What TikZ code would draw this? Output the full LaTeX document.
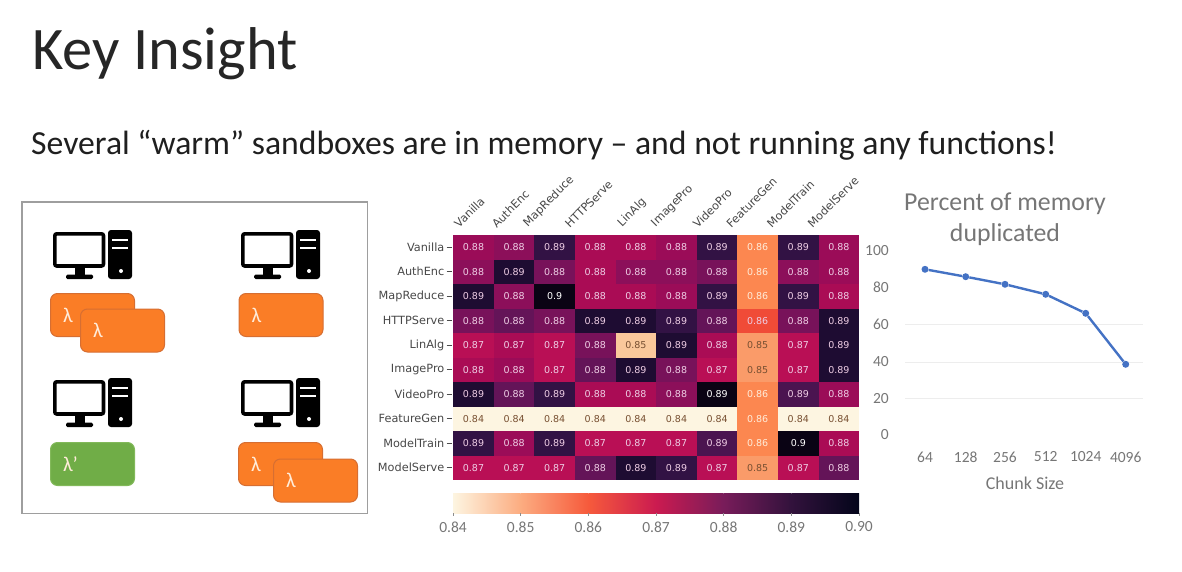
\documentclass[tikz,border=0pt]{standalone}
\usepackage{fontspec}
\setmainfont{Carlito}
\newfontfamily\heatfont{DejaVu Sans}
\usepackage{tikz}

\definecolor{sbxorange}{RGB}{250,125,38}
\definecolor{sbxedge}{RGB}{214,110,50}
\definecolor{sbxgreen}{RGB}{112,173,71}
\definecolor{sbxgreenedge}{RGB}{130,185,90}
\definecolor{chartgrey}{RGB}{118,118,118}
\definecolor{chartblue}{RGB}{68,114,196}
\definecolor{heatpale}{RGB}{238,205,228}
\definecolor{heatbrown}{RGB}{120,80,50}
\definecolor{barA}{RGB}{253,245,225}
\definecolor{barB}{RGB}{252,172,128}
\definecolor{barC}{RGB}{246,90,60}
\definecolor{barD}{RGB}{203,27,80}
\definecolor{barE}{RGB}{120,28,90}
\definecolor{barF}{RGB}{50,18,60}
\definecolor{barG}{RGB}{3,5,26}

\tikzset{
  % heat map tones, dark to light
  tk/.style={fill={rgb,255:red,10;green,3;blue,20},text=white},
  ta/.style={fill={rgb,255:red,30;green,12;blue,50}},
  tb/.style={fill={rgb,255:red,50;green,18;blue,68}},
  tc/.style={fill={rgb,255:red,75;green,20;blue,80}},
  td/.style={fill={rgb,255:red,100;green,20;blue,88}},
  te/.style={fill={rgb,255:red,120;green,18;blue,90}},
  tf/.style={fill={rgb,255:red,140;green,15;blue,90}},
  tg/.style={fill={rgb,255:red,155;green,12;blue,88}},
  th/.style={fill={rgb,255:red,170;green,12;blue,85}},
  ti/.style={fill={rgb,255:red,185;green,15;blue,85}},
  tr/.style={fill={rgb,255:red,240;green,75;blue,55},text=heatpale},
  to/.style={fill={rgb,255:red,252;green,135;blue,80},text=white!85!orange},
  tp/.style={fill={rgb,255:red,250;green,155;blue,105},text=heatbrown},
  ts/.style={fill={rgb,255:red,250;green,200;blue,155},text=heatbrown},
  tw/.style={fill={rgb,255:red,253;green,245;blue,225},text=heatbrown},
  heatcell/.style={anchor=north west,inner sep=0pt,minimum width=40.6pt,minimum height=24.5pt,
    text=heatpale,font=\heatfont\fontsize{9.5}{10}\selectfont},
  heatname/.style={inner sep=0pt,text=black!72,font=\heatfont\fontsize{11.3}{12}\selectfont},
  sandbox/.style={draw=sbxedge,line width=1pt,fill=sbxorange,rounded corners=7pt,anchor=north west,
    minimum width=84pt,minimum height=43pt,text width=59pt,inner xsep=12.5pt,align=left,
    text=white!85!orange,font=\fontsize{21}{22}\selectfont},
  axislabel/.style={inner sep=0pt,text=chartgrey,font=\fontsize{15.5}{16}\selectfont},
  barlabel/.style={inner sep=0pt,text=chartgrey,font=\fontsize{15.5}{16}\selectfont},
  gridrule/.style={draw=black!7,line width=.8pt},
  chartdot/.style={circle,fill=chartblue,inner sep=0pt,minimum size=7pt},
  pics/computer/.style={code={
    \draw[line width=3.6pt,rounded corners=2pt] (1.8,3.8) rectangle (50.5,36);
    \fill (22,37) rectangle (32,45);
    \fill[rounded corners=1.5pt] (13,44.5) rectangle (40,49);
    \fill[rounded corners=3pt] (55,0) rectangle (79,49);
    \fill[white] (59,9) rectangle (75,11.2);
    \fill[white] (59,16.5) rectangle (75,18.7);
    \fill[white] (68,41) circle (2pt);
  }}
}

\begin{document}
\begin{tikzpicture}[x=1pt,y=-1pt]
  \useasboundingbox (0,0) rectangle (1182,572);

  % heading
  \node[anchor=base west,inner sep=0pt,text=black!85,font=\fontsize{60.4}{62}\selectfont] (title) at (32,70) {Key Insight};
  \node[anchor=base west,inner sep=0pt,text=black!88,font=\fontsize{33.7}{35}\selectfont] (subtitle) at (31,154.5)
    {Several “warm” sandboxes are in memory – and not running any functions!};

  % machines
  \node[draw=black!38,line width=1.5pt,anchor=north west,inner sep=0pt,minimum width=345.5pt,minimum height=311.5pt] (frame) at (21,201) {};
  \pic (pcA) at (53,230) {computer};
  \pic (pcB) at (241,230) {computer};
  \pic (pcC) at (53,378) {computer};
  \pic (pcD) at (241,378) {computer};
  \node[sandbox] (lamA) at (50,293) {λ};
  \node[sandbox] (lamB) at (80,308.5) {λ};
  \node[sandbox] (lamC) at (238.5,293) {λ};
  \node[sandbox,fill=sbxgreen,draw=sbxgreenedge] (lamD) at (50,442) {λ'};
  \node[sandbox] (lamE) at (238,442) {λ};
  \node[sandbox] (lamF) at (273,458.5) {λ};

  % heat map
  \foreach \rowname/\cells [count=\r from 0] in {
    Vanilla/{0.88/tg,0.88/tf,0.89/tb,0.88/th,0.88/th,0.88/tg,0.89/tb,0.86/to,0.89/tb,0.88/tg},
    AuthEnc/{0.88/tf,0.89/ta,0.88/te,0.88/th,0.88/tf,0.88/tf,0.88/te,0.86/to,0.88/tf,0.88/tg},
    MapReduce/{0.89/ta,0.88/tf,0.9/tk,0.88/th,0.88/th,0.88/tg,0.89/tb,0.86/to,0.89/tb,0.88/th},
    HTTPServe/{0.88/te,0.88/td,0.88/te,0.89/ta,0.89/ta,0.89/tb,0.88/td,0.86/tr,0.88/te,0.89/ta},
    LinAlg/{0.87/ti,0.87/th,0.87/ti,0.88/te,0.85/ts,0.89/ta,0.88/th,0.85/tp,0.87/ti,0.89/ta},
    ImagePro/{0.88/th,0.88/tg,0.87/ti,0.88/td,0.89/ta,0.88/te,0.87/ti,0.85/tp,0.87/ti,0.89/ta},
    VideoPro/{0.89/ta,0.88/td,0.89/tb,0.88/th,0.88/th,0.88/tf,0.89/tk,0.86/to,0.89/tc,0.88/tg},
    FeatureGen/{0.84/tw,0.84/tw,0.84/tw,0.84/tw,0.84/tw,0.84/tw,0.84/tw,0.86/to,0.84/tw,0.84/tw},
    ModelTrain/{0.89/tb,0.88/tg,0.89/tb,0.87/ti,0.87/ti,0.87/ti,0.89/tc,0.86/to,0.9/tk,0.88/th},
    ModelServe/{0.87/ti,0.87/ti,0.87/ti,0.88/td,0.89/ta,0.89/tb,0.87/ti,0.85/tp,0.87/ti,0.88/td}}
  {
    \foreach \val/\tone [count=\c from 0] in \cells
      \node[heatcell,\tone] (cell-\r-\c) at ({453+40.6*\c},{235+24.5*\r}) {\val};
    \node[heatname,anchor=east] (row-\r) at (444.5,{247.25+24.5*\r}) {\rowname};
    \draw[black!70,line width=.8pt] (row-\r.east) ++(2,0) -- ++(5,0);
  }
  \foreach \colname/\shift [count=\c from 0] in {Vanilla/14,AuthEnc/17,MapReduce/25,HTTPServe/25,LinAlg/12,ImagePro/19,VideoPro/19,FeatureGen/26,ModelTrain/26,ModelServe/26}
    \node[heatname,rotate=45,anchor=south west] (col-\c) at ({473.3+40.6*\c-\shift},229) {\colname};

  % colour bar
  \foreach \from/\leftc/\rightc [count=\c from 0] in {453/barA/barB,520.67/barB/barC,588.33/barC/barD,656/barD/barE,723.67/barE/barF,791.33/barF/barG}
    \shade[left color=\leftc,right color=\rightc] (\from,493) rectangle ++(67.7,20);
  \foreach \tick [count=\c from 0] in {0.84,0.85,0.86,0.87,0.88,0.89,0.90} {
    \node[barlabel] (bar-\c) at ({453+67.67*\c},527) {\tick};
    \draw[black!45,line width=.6pt] ({453+67.67*\c},513) -- ++(0,3);
  }

  % duplication chart
  \node[text=chartgrey,align=center,inner sep=0pt,font=\fontsize{25.8}{31}\selectfont] (charttitle) at (1005,219.5) {Percent of memory\\duplicated};
  \foreach \level in {324,362.5,398}
    \draw[gridrule] (905,\level) -- (1143,\level);
  \foreach \tick/\level [count=\c from 0] in {100/251,80/287.5,60/324.5,40/362,20/398.5,0/435}
    \node[axislabel,anchor=east] (ytick-\c) at (889,\level) {\tick};
  \foreach \tick/\across/\down in {64/925/269.3,128/965.7/276.7,256/1005/284.3,512/1045.7/294.3,1024/1085.7/313.3,4096/1125.7/364.3} {
    \node[chartdot] (pt\tick) at (\across,\down) {};
    \node[axislabel] (xtick\tick) at (\across,457) {\tick};
  }
  \draw[chartblue,line width=2.4pt] (pt64) -- (pt128) -- (pt256) -- (pt512) -- (pt1024) -- (pt4096);
  \node[axislabel,font=\fontsize{18}{19}\selectfont] (chartx) at (1025,483) {Chunk Size};
\end{tikzpicture}
\end{document}
